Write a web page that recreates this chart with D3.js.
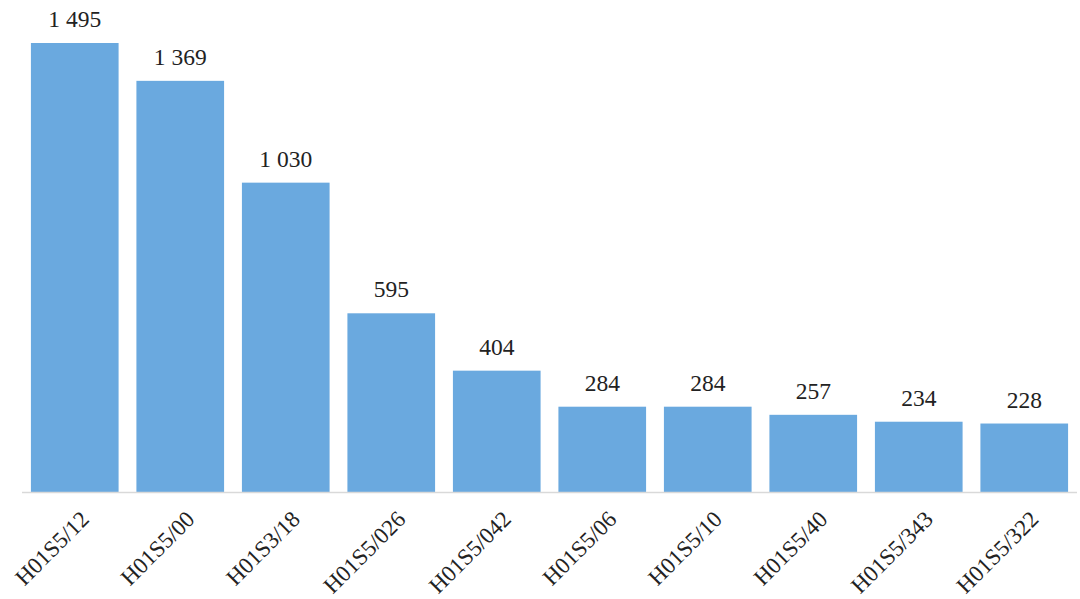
<!DOCTYPE html>
<html><head><meta charset="utf-8">
<script src="https://cdn.jsdelivr.net/npm/d3@7"></script>
<style>body{margin:0;background:#fff;}svg{display:block;}</style>
</head><body>
<svg id="c" width="1080" height="599"></svg>
<script>
const categories = ["H01S5/12","H01S5/00","H01S3/18","H01S5/026","H01S5/042","H01S5/06","H01S5/10","H01S5/40","H01S5/343","H01S5/322"];
const values = [1495,1369,1030,595,404,284,284,257,234,228];
const valueLabels = ["1 495","1 369","1 030","595","404","284","284","257","234","228"];

const svg = d3.select("#c");
const font = "'Liberation Serif','Times New Roman',serif";
const x = d3.scaleBand().domain(categories).range([22,1077]).paddingInner(0.169).paddingOuter(0.0845);
const y = d3.scaleLinear().domain([0,1495]).range([492,43]);

svg.selectAll("rect.bar").data(values).join("rect")
  .attr("class","bar")
  .attr("x",(d,i)=>x(categories[i]))
  .attr("width",x.bandwidth())
  .attr("y",d=>y(d))
  .attr("height",d=>y(0)-y(d))
  .attr("fill","#6aa9df");

svg.append("line").attr("x1",22).attr("x2",1077).attr("y1",y(0)+0.5).attr("y2",y(0)+0.5)
  .attr("stroke","#d9d9d9").attr("stroke-width",1.5);

svg.selectAll("text.val").data(values).join("text")
  .attr("class","val")
  .attr("x",(d,i)=>x(categories[i])+x.bandwidth()/2)
  .attr("y",d=>y(d)-16)
  .attr("text-anchor","middle")
  .attr("font-family",font).attr("font-size",23.5).attr("fill","#222")
  .text((d,i)=>valueLabels[i]);

const xAxis = d3.axisBottom(x).tickSize(0).tickPadding(0);
const gx = svg.append("g").attr("transform",`translate(0,${y(0)})`).call(xAxis);
gx.select(".domain").remove();
gx.selectAll(".tick text")
  .attr("font-family",font).attr("font-size",23).attr("fill","#222")
  .attr("text-anchor","end")
  .attr("y",0)
  .attr("dy","0.35em")
  .attr("transform","translate(10,23) rotate(-45)");
</script>
</body></html>
